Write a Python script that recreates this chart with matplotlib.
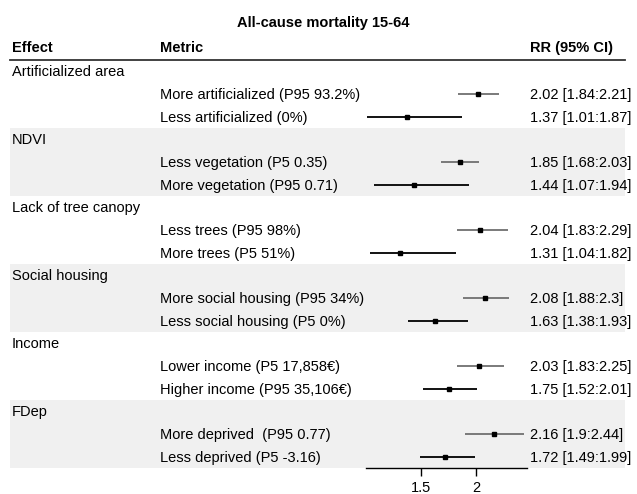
import matplotlib
matplotlib.use("Agg")
import matplotlib.pyplot as plt
import matplotlib.transforms as mtransforms
from matplotlib.patches import Rectangle

plt.rcParams['font.family'] = ['Liberation Sans', 'DejaVu Sans']

title = "All-cause mortality 15-64"
effects = ["Artificialized area", "NDVI", "Lack of tree canopy",
           "Social housing", "Income", "FDep"]
metrics = [
    ["More artificialized (P95 93.2%)", "Less artificialized (0%)"],
    ["Less vegetation (P5 0.35)", "More vegetation (P95 0.71)"],
    ["Less trees (P95 98%)", "More trees (P5 51%)"],
    ["More social housing (P95 34%)", "Less social housing (P5 0%)"],
    ["Lower income (P5 17,858€)", "Higher income (P95 35,106€)"],
    ["More deprived  (P95 0.77)", "Less deprived (P5 -3.16)"],
]
rr = [[2.02, 1.37], [1.85, 1.44], [2.04, 1.31], [2.08, 1.63], [2.03, 1.75], [2.16, 1.72]]
lo = [[1.84, 1.01], [1.68, 1.07], [1.83, 1.04], [1.88, 1.38], [1.83, 1.52], [1.9, 1.49]]
hi = [[2.21, 1.87], [2.03, 1.94], [2.29, 1.82], [2.3, 1.93], [2.25, 2.01], [2.44, 1.99]]
rr_labels = [
    ["2.02 [1.84:2.21]", "1.37 [1.01:1.87]"],
    ["1.85 [1.68:2.03]", "1.44 [1.07:1.94]"],
    ["2.04 [1.83:2.29]", "1.31 [1.04:1.82]"],
    ["2.08 [1.88:2.3]", "1.63 [1.38:1.93]"],
    ["2.03 [1.83:2.25]", "1.75 [1.52:2.01]"],
    ["2.16 [1.9:2.44]", "1.72 [1.49:1.99]"],
]
xticks = [1.5, 2]
xtick_labels = ["1.5", "2"]

W, H = 637, 494
fig = plt.figure(figsize=(W / 100, H / 100), dpi=100)
ax_left, ax_right, ax_top, ax_bot = 366, 527, 60, 468
ax = fig.add_axes([ax_left / W, (H - ax_bot) / H, (ax_right - ax_left) / W, (ax_bot - ax_top) / H])
ax.set_xlim(1.0, 2.4636)
nrows = 3 * len(effects)
ax.set_ylim(nrows, 0)
ax.patch.set_alpha(0)
for s in ['top', 'right', 'left']:
    ax.spines[s].set_visible(False)
ax.spines['bottom'].set_linewidth(1.0)
ax.set_yticks([])
ax.set_xticks(xticks)
ax.set_xticklabels(xtick_labels, fontsize=10.5)
ax.tick_params(axis='x', length=6, width=1.0, pad=3)

trans = mtransforms.blended_transform_factory(fig.transFigure, ax.transData)
fs = 10.5
off = 0.22  # baseline offset (rows) below row centre

for g, eff in enumerate(effects):
    base = 3 * g
    if g % 2 == 1:
        fig.add_artist(Rectangle((10 / W, base), (625 - 10) / W, 3, transform=trans,
                                 facecolor='#f0f0f0', edgecolor='none', zorder=0))
    ax.text(12 / W, base + 0.5 + off, eff, transform=trans, fontsize=fs, va='baseline', ha='left')
    for k in range(2):
        y = base + 1.5 + k
        col = '#707070' if k == 0 else 'black'
        ax.plot([lo[g][k], hi[g][k]], [y, y], color=col, lw=1.3, solid_capstyle='butt', zorder=3)
        ax.plot([rr[g][k]], [y], marker='s', color='black', markersize=3.2, zorder=4)
        ax.text(160 / W, y + off, metrics[g][k], transform=trans, fontsize=fs, va='baseline', ha='left')
        ax.text(530 / W, y + off, rr_labels[g][k], transform=trans, fontsize=fs, va='baseline', ha='left')

# header
hy = -0.353
ax.text(12 / W, hy, "Effect", transform=trans, fontsize=fs, fontweight='bold', va='baseline', ha='left')
ax.text(160 / W, hy, "Metric", transform=trans, fontsize=fs, fontweight='bold', va='baseline', ha='left')
ax.text(530 / W, hy, "RR (95% CI)", transform=trans, fontsize=fs, fontweight='bold', va='baseline', ha='left')
ax.plot([10 / W, 625 / W], [0, 0], transform=trans, color='#333333', lw=1.3, clip_on=False)
fig.text(323 / W, 1 - 27 / H, title, fontsize=fs, fontweight='bold', ha='center', va='baseline')

fig.savefig("out.png", dpi=100)
